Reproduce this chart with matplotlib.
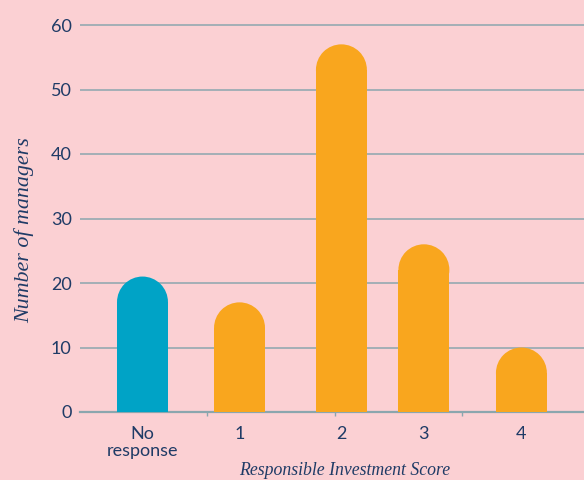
import matplotlib
matplotlib.use("Agg")
import matplotlib.pyplot as plt
from matplotlib.patches import Ellipse

categories = ["No\nresponse", "1", "2", "3", "4"]
managers = [21, 17, 57, 26, 10]
bar_colors = ["#00a3c6", "#f9a61e", "#f9a61e", "#f9a61e", "#f9a61e"]
y_ticks = [0, 10, 20, 30, 40, 50, 60]

# slot positions along the axis (the original spacing is a bit uneven)
slots = [0, 1, 2.05, 2.9, 3.905]
bar_w = 0.525

bg = "#fbd0d3"
navy = "#1f3b66"
grid_c = "#8ba6ae"

W, H = 584, 480
fig = plt.figure(figsize=(W / 100, H / 100), dpi=100, facecolor=bg)
# axes placed in pixels: left 80, bottom 68, right edge of figure
ax_h = 63 * 6.45
ax = fig.add_axes([80 / W, 68 / H, 504 / W, ax_h / H], facecolor=bg)
x0, x1 = -0.644, 4.55
y0, y1 = 0, 63
ax.set_xlim(x0, x1)
ax.set_ylim(y0, y1)

# radius of the rounded cap in y data units so it is a true semicircle
px_per_x = 504 / (x1 - x0)
px_per_y = ax_h / (y1 - y0)
r_y = (bar_w / 2) * px_per_x / px_per_y

for x, v, c in zip(slots, managers, bar_colors):
    ax.bar(x, v - r_y, width=bar_w, color=c, zorder=3, linewidth=0)
    ax.add_patch(Ellipse((x, v - r_y), bar_w, 2 * r_y, color=c, zorder=3, lw=0))

ax.set_yticks(y_ticks)
ax.yaxis.grid(True, color=grid_c, linewidth=1.1)
ax.set_axisbelow(True)
ax.set_xticks(slots)
ax.set_xticklabels(categories)
ax.set_xticks([0.665, 1.985, 3.29], minor=True)

for s in ["top", "right", "left"]:
    ax.spines[s].set_visible(False)
ax.spines["bottom"].set_color(grid_c)
ax.spines["bottom"].set_linewidth(1.6)

ax.tick_params(axis="y", length=0, pad=6, labelsize=13, labelcolor=navy)
ax.tick_params(axis="x", which="major", length=0, pad=10, labelsize=13, labelcolor=navy)
ax.tick_params(axis="x", which="minor", length=3, width=1, color=grid_c)
for lab in ax.get_xticklabels() + ax.get_yticklabels():
    lab.set_family("Lato")
    lab.set_linespacing(1.1)

ax.set_ylabel("Number of managers", family="Liberation Serif", style="italic",
              fontsize=15.8, color=navy)
ax.yaxis.set_label_coords(-0.09, 0.448)
ax.text(0.526, -0.155, "Responsible Investment Score", transform=ax.transAxes,
        ha="center", va="baseline", family="Liberation Serif", style="italic",
        fontsize=12.8, color=navy)

fig.savefig("out.png", dpi=100, facecolor=bg)
